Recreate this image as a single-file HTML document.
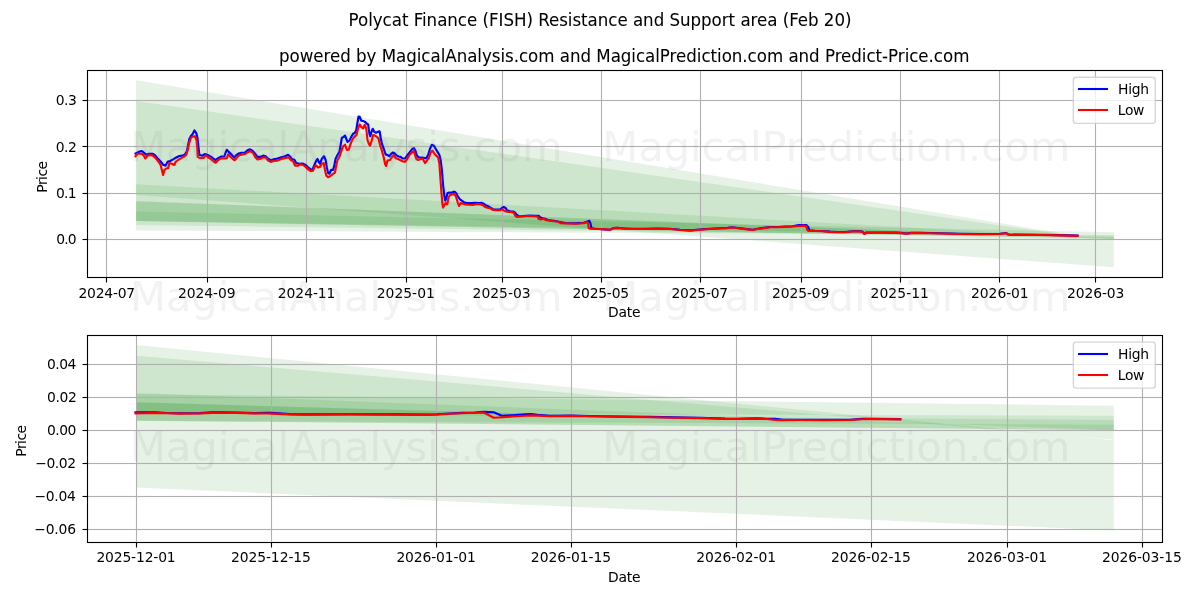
<!DOCTYPE html>
<html lang="en"><head><meta charset="utf-8"><title>Polycat Finance (FISH) Resistance and Support area (Feb 20)</title>
<style>html,body{margin:0;padding:0;background:#fff}body{width:1200px;height:600px;overflow:hidden}svg{display:block}text{font-family:'DejaVu Sans','Liberation Sans',sans-serif;fill:#000}</style>
</head><body>
<svg width="1200" height="600" viewBox="0 0 1200 600">
<rect width="1200" height="600" fill="#fff"/>
<clipPath id="c1"><rect x="86.65" y="70.33" width="1075.51" height="206.56"/></clipPath>
<g clip-path="url(#c1)">
<g fill="#008000" fill-opacity="0.1" stroke="none">
<path d="M136.04 80.2L1113.77 241.9L1113.77 267.2L136.04 195Z"/>
<path d="M136.04 101L1065.67 234.78L136.04 230.5ZM1065.67 234.78L1113.77 241.7L1113.77 235Z"/>
<path d="M136.04 211.5L1113.77 232.2L1113.77 238.9L136.04 221Z"/>
<path d="M136.04 184.2L1081.33 237.09L136.04 225ZM1081.33 237.09L1113.77 238.9L1113.77 237.5Z"/>
<path d="M136.04 201.2L996.44 234.38L136.04 221ZM996.44 234.38L1113.77 238.9L1113.77 236.2Z"/>
<path d="M136.04 201.2L1113.77 238.9L1113.77 238.9L136.04 221Z"/>
</g>
<path d="M86.65 239.5H1162.16M86.65 193.5H1162.16M86.65 146.5H1162.16M86.65 100.5H1162.16" stroke="#b0b0b0" stroke-width="3" stroke-opacity="0.055" fill="none"/>
<path d="M106.5 70.33V276.89M207.5 70.33V276.89M306.5 70.33V276.89M406.5 70.33V276.89M502.5 70.33V276.89M601.5 70.33V276.89M700.5 70.33V276.89M801.5 70.33V276.89M900.5 70.33V276.89M999.5 70.33V276.89M1095.5 70.33V276.89M86.65 239.5H1162.16M86.65 193.5H1162.16M86.65 146.5H1162.16M86.65 100.5H1162.16" stroke="#b0b0b0" stroke-width="1.11" fill="none"/>
<path d="M135.54 153.5L138.75 151.88L141.88 151L144.38 153.12L146.25 154.75L148.75 153.75L152.5 153.75L155 155.25L157.5 158.12L160.62 161.5L163.12 164.75L165.62 165.62L167.5 161.88L170 161L173.12 159.38L176.25 157.5L179.38 156L182.5 155.62L185 154.38L186.88 151.25L188.12 145L189.38 138.75L191.25 135.62L192.5 134.38L194.38 130.38L196.25 133.12L197.5 138.12L198.5 147.5L199.38 155L202.5 155.62L205 154L208.12 155.25L211.25 156.88L213.75 159L215.62 160L218.12 158.12L221.25 156.5L224.38 156.5L225.62 152.5L226.88 149.75L228.75 151.88L231.25 154.38L234.38 157.5L236.25 155.25L238.75 153.5L241.25 152.75L245 152.5L247.5 150.25L250 149.38L252.5 150.62L255 153.75L257.5 156.88L260.62 156.88L263.12 155.62L265.62 156.25L268.12 158.75L270.62 160.25L273.75 159.38L277.5 158.5L281.25 157.25L285 156.25L288.12 154.75L290 156.5L291.88 159L294.38 159.75L296.25 163.12L299.38 163.75L302.5 163.5L305.62 165L308.12 167.25L310.62 169.38L312.5 169.75L314.38 165L316.25 160.62L317.5 159L318.75 161.88L320 163.75L321.88 158.75L324 156.25L325.62 160L326.88 167.5L328.12 173.12L329.38 173.75L331.25 169.75L333.12 170L334.38 165L335.62 158.75L337.5 155L339.38 151.88L340.62 145L341.88 137.75L343.75 136.88L345 135.62L346.25 138.75L347.5 141.88L349.38 140.62L351.25 136.88L353.12 133.75L355 132.75L356.25 130L357.5 122.5L358.5 116.5L359.75 116.88L361.25 120.62L363.12 121L365 121.88L366.88 123.75L368.12 124.38L369.38 133.75L370.25 136.25L371.5 131.88L372.75 128.75L374.38 131.88L376 132.75L377.75 131.88L379.62 131.25L380.62 137.5L381.88 143.75L383.75 148.75L385.62 154.38L387.5 155L389.38 156.25L391.25 153.75L393.12 152.5L395 153.75L396.88 155.62L398.75 156.5L400.62 156.88L402.5 158.5L405 158.5L407.5 155L410 151.88L412.5 148.75L414 148.12L415.62 151.25L416.88 155.62L418.75 157.5L421.88 157.5L424.38 158.12L426.25 158.12L428.12 155L430 148.75L431.88 144.75L433.75 145.62L435.62 148.75L437.5 151.88L439.38 155L440.62 160L441.88 170L443.12 185L444.38 196.25L445.25 200.62L446.5 197.5L447.5 193.12L449.38 192.5L451.25 192.75L453.12 191.88L455 191.88L456.5 193.75L458.12 196.88L460 199.38L462.5 201.25L464.38 202.5L467.5 203.12L471.25 203.12L475 202.88L478.75 203.12L481.88 202.88L483.75 203.75L486.25 205.62L488.75 206.5L490 207.45L493.12 209.2L496.25 209.57L500 209.57L501.88 207.95L503.75 207.07L505.62 207.95L506.88 210.2L510 211.2L513.12 211.45L515 212.7L516.88 214.95L518.75 216.2L522.5 216.07L530 215.57L535 215.82L538.75 215.82L540.25 217.45L542.5 218.32L545 218.7L547.5 219.95L553.75 220.82L560 222.07L565 222.95L575 223.32L583.75 222.7L587.5 221.45L589.38 220.82L590.62 223.95L591.5 228.32L595 228.7L605 229.32L610 229.7L613.75 228.07L617.5 227.82L623.75 228.45L625 228.5L632.5 228.75L645 228.75L657.5 228.5L670 228.75L680 229.75L690 230.38L700 229.5L710 228.75L720 228.25L727.5 227.88L732.5 227.25L740 228.25L747.5 229.12L752.5 229.75L757.5 228.75L763.75 227.88L770 227L777.5 227L785 226.62L792.5 226.25L798.75 225L806.25 225L808.12 226.88L809.38 230.25L815 230.75L822.5 231L830 231.62L837.5 232L845 232L852.5 231.25L857.5 231L862.5 231.62L864.38 233.75L866.25 232.5L872.5 232.5L882.5 232.5L895 232.62L901.25 232.88L906.25 233.5L911.25 232.88L918.75 232.88L920 232.75L940 233.25L960 233.75L980 233.95L1000 233.75L1006 232.95L1008 234.25L1010 234.75L1015 234.55L1040 234.75L1060 235.15L1077.5 235.55" stroke="#0000ff" stroke-width="2.15" fill="none" stroke-linejoin="round" stroke-linecap="square"/>
<path d="M135.54 156.25L137.5 153.75L141.88 153.75L143.75 155.62L145.25 158.5L147.5 155.62L150 155L153.12 155.62L155.62 158.12L158.12 161.25L160.62 165L161.88 170L163.12 175L164.38 170L166.25 168.5L168.12 168.12L169.38 163.12L171.88 163.75L174.38 165L175.62 161.88L178.12 160L181.25 158.12L183.75 156.88L186.25 155L187.75 150L189 143.75L190.62 138.12L192.5 136.5L195 136.25L196.5 140L197.25 147.5L197.75 156.88L200 158.12L203.75 157.88L205.62 155.25L208.12 157.25L211.25 159.38L213.75 161.5L215.62 162.75L218.12 160L221.25 158.12L224.38 158.5L226.88 158.12L228.12 154.38L230 156.25L232.5 158.75L234.75 160.25L236.88 157.5L239.38 155.25L242.5 154.38L245.62 153.75L248.12 151.88L250.62 151.25L253.12 153.12L255 156.88L257.5 159.38L260.62 158.75L263.12 157.25L265.62 157.5L268.12 160.62L270.62 161.88L273.75 161L277.5 160.62L281.25 159L285 158.12L288.75 157.25L290.62 160L293.12 161.25L295 165.62L298.12 165.62L300 164.38L303.12 165L305.62 166.88L308.12 169.38L310.62 171.25L313.12 170.62L315 166.25L316.25 165.62L318.12 167.5L320 166.88L321.88 163.75L323.75 163.12L325 170L326.25 175.62L328.12 177.25L330 176.25L332.5 174.38L335 172.5L336.25 165L337.5 160L339.38 156.88L341.25 151.25L343.12 146.25L345 144.75L346.88 150L348.75 149.75L350.62 143.75L352.5 139.38L354.38 136.88L356.5 135L358.12 128.12L359.75 124.38L361.25 126.88L363.12 128.5L364.75 124.75L366.25 128.75L367.5 140L368.75 143.75L370 145.62L371.5 141.25L373.12 135L375 135.62L376.88 136.88L378.5 138.5L380 145L381.88 150.62L383.75 157.5L385 163.75L386 166L387.5 160.62L390 160L391.88 157.25L393.75 155L395.62 158.12L397.5 158.75L400 160L402.5 161.25L405 161.88L406.88 159.38L409.38 155L411.88 152.5L413.75 151.25L415 155L416.25 158.75L418.12 160L421.25 158.75L423.12 159.38L425 163.12L426.88 160.62L428.75 158.12L430.62 152.5L432.5 150.62L434.38 153.75L436.25 155.62L438.12 157.5L439.38 163.75L440.25 176.25L441.25 190L442.25 202.5L443.12 207.5L444.38 205L445.62 203.12L447.25 204.38L448.5 197.5L450 195L452.5 194.38L454.75 193.75L456.25 197.5L457.75 202.5L459 206L460.62 203.12L462.5 203.5L465 204.38L468.75 204.75L472.5 205L476.25 204.12L480 204.12L482.5 205L485 206.88L487.5 207.75L490 208.12L493.12 210L496.25 210.25L500 210.25L502.5 209.38L505 211.25L508.12 211.88L511.25 211.88L513.75 212.75L515.62 216.25L517.5 216.88L521.25 216.5L525 216.25L530 216L533.75 216.25L537.5 216.62L538.75 219L541.25 219.38L543.75 218.75L546.25 220.25L550 220.62L553.75 221.25L557.5 221.5L560.62 223.12L565 223.5L570 223.5L575 223.75L580 223.5L583.75 223.12L586.88 222.25L588.12 223.75L588.75 228.12L590 228.75L595 228.75L600 229L605 229.38L610 229.75L613.75 228.12L617.5 227.88L623.75 228.5L625 228.75L632.5 229L645 229L657.5 228.75L670 229L680 230L690 230.62L700 229.75L710 229L720 228.5L727.5 228.12L732.5 227.5L740 228.5L747.5 229.38L752.5 230L757.5 229L763.75 228.12L770 227.25L777.5 227.25L785 226.88L792.5 226.5L798.75 226L803.75 225.62L806.25 226.25L807.25 230L808.75 231L815 231L822.5 231.25L830 231.88L837.5 232.25L845 232.25L852.5 231.5L857.5 231.25L862.5 231.88L864.38 234L866.25 232.75L872.5 232.75L882.5 232.75L895 232.88L901.25 233.12L906.25 233.75L911.25 233.12L918.75 233.12L920 233L940 233.5L960 234L980 234.2L1000 234L1006 233.2L1008 234.5L1010 235L1015 234.8L1040 235L1060 235.4L1077.5 235.8" stroke="#ff0000" stroke-width="2.15" fill="none" stroke-linejoin="round" stroke-linecap="square"/>
</g>
<path d="M87 239.5H83M87 193.5H83M87 146.5H83M87 100.5H83" stroke="#000" stroke-width="3" stroke-opacity="0.055" fill="none"/>
<path d="M106.5 277.5V282.5M207.5 277.5V282.5M306.5 277.5V282.5M406.5 277.5V282.5M502.5 277.5V282.5M601.5 277.5V282.5M700.5 277.5V282.5M801.5 277.5V282.5M900.5 277.5V282.5M999.5 277.5V282.5M1095.5 277.5V282.5M87.5 239.5H82.5M87.5 193.5H82.5M87.5 146.5H82.5M87.5 100.5H82.5" stroke="#000" stroke-width="1.11" fill="none"/>
<path d="M88 70.5H1162M88 277.5H1162" stroke="#000" stroke-width="3" stroke-opacity="0.055" fill="none"/>
<path d="M87.5 70.5H1162.5V277.5H87.5Z" stroke="#000" stroke-width="1.11" fill="none" stroke-linejoin="miter" stroke-linecap="square"/>
<g font-size="13.89">
<text transform="translate(78.46 297.75) scale(1 1.050)" font-size="13.89" textLength="56.67" lengthAdjust="spacing">2024-07</text>
<text transform="translate(178.03 297.69) scale(1 1.050)" font-size="13.89" textLength="57.5" lengthAdjust="spacing">2024-09</text>
<text x="277.83" y="297.6" font-size="13.89" textLength="57.62" lengthAdjust="spacing">2024-11</text>
<text transform="translate(376.67 297.81) scale(1 1.050)" font-size="13.89" textLength="58.2" lengthAdjust="spacing">2025-01</text>
<text transform="translate(472.59 297.78) scale(1 1.050)" font-size="13.89" textLength="58.08" lengthAdjust="spacing">2025-03</text>
<text x="572.41" y="297.88" font-size="13.89" textLength="56.67" lengthAdjust="spacing">2025-05</text>
<text transform="translate(671.45 297.88) scale(1 1.050)" font-size="13.89" textLength="56.67" lengthAdjust="spacing">2025-07</text>
<text transform="translate(771.95 297.81) scale(1 1.050)" font-size="13.89" textLength="57.5" lengthAdjust="spacing">2025-09</text>
<text transform="translate(870.6 297.73) scale(1 1.050)" font-size="13.89" textLength="58.33" lengthAdjust="spacing">2025-11</text>
<text transform="translate(971.09 297.83) scale(1 1.050)" font-size="13.89" textLength="57.62" lengthAdjust="spacing">2026-01</text>
<text transform="translate(1066.94 297.82) scale(1 1.050)" font-size="13.89" textLength="57.5" lengthAdjust="spacing">2026-03</text>
<text x="56.2" y="243.83" font-size="13.89" textLength="20.48" lengthAdjust="spacing">0.0</text>
<text x="55.96" y="197.8" font-size="13.89" textLength="20.6" lengthAdjust="spacing">0.1</text>
<text transform="translate(55.68 151.98) scale(1 1.050)" font-size="13.89" textLength="21.18" lengthAdjust="spacing">0.2</text>
<text transform="translate(55.68 104.6) scale(1 1.050)" font-size="13.89" textLength="21.18" lengthAdjust="spacing">0.3</text>
<text transform="translate(608 316.91) scale(1 1.050)" font-size="13.89" textLength="32.67" lengthAdjust="spacing" stroke="#000" stroke-width="0.05">Date</text>
<text transform="translate(46.66 192.69) rotate(-90) scale(1 1.050)" font-size="13.89" textLength="31.77" lengthAdjust="spacing">Price</text>
</g>
<text transform="translate(279.02 61.88) scale(1 1.050)" font-size="16.67" textLength="690.38" lengthAdjust="spacing" stroke="#000" stroke-width="0.05">powered by MagicalAnalysis.com and MagicalPrediction.com and Predict-Price.com</text>
<rect x="1073.34" y="77.28" width="81.88" height="46.06" rx="2.8" ry="2.8" fill="#fff" fill-opacity="0.8" stroke="#ccc" stroke-opacity="0.8" stroke-width="1.39"/>
<path d="M1078 89H1108" stroke="#0000ff" stroke-width="4" stroke-opacity="0.04" fill="none"/>
<path d="M1078 89H1108" stroke="#0000ff" stroke-width="2" fill="none"/>
<path d="M1078 110H1108" stroke="#ff0000" stroke-width="4" stroke-opacity="0.04" fill="none"/>
<path d="M1078 110H1108" stroke="#ff0000" stroke-width="2" fill="none"/>
<text x="1117.97" y="93.6" font-size="13.89" textLength="31.18" lengthAdjust="spacing">High</text>
<text transform="translate(1117.73 114.72) scale(1 1.050)" font-size="13.89" textLength="26.68" lengthAdjust="spacing">Low</text>
<clipPath id="c2"><rect x="86.65" y="335.17" width="1075.51" height="206.56"/></clipPath>
<g clip-path="url(#c2)">
<g fill="#008000" fill-opacity="0.1" stroke="none">
<path d="M136.04 345L1113.77 440.35L1113.77 530.4L136.04 487.6Z"/>
<path d="M136.04 355.8L825.21 414.9L136.04 413ZM825.21 414.9L1113.77 439.65L1113.77 415.7Z"/>
<path d="M136.04 394.2L1113.77 405.7L1113.77 430.3L136.04 420.7Z"/>
<path d="M136.04 393L949.35 424.03L136.04 420.7ZM949.35 424.03L1113.77 430.3L1113.77 424.7Z"/>
<path d="M136.04 402.3L634.22 416.57L136.04 413ZM634.22 416.57L1113.77 430.3L1113.77 420Z"/>
<path d="M136.04 402.3L1113.77 430.3L1113.77 430.3L136.04 420.7Z"/>
</g>
<path d="M86.65 529.5H1162.16M86.65 496.5H1162.16M86.65 463.5H1162.16M86.65 430.5H1162.16M86.65 397.5H1162.16M86.65 364.5H1162.16" stroke="#b0b0b0" stroke-width="3" stroke-opacity="0.055" fill="none"/>
<path d="M136.5 335.17V541.72M271.5 335.17V541.72M436.5 335.17V541.72M571.5 335.17V541.72M736.5 335.17V541.72M871.5 335.17V541.72M1007.5 335.17V541.72M1142.5 335.17V541.72M86.65 529.5H1162.16M86.65 496.5H1162.16M86.65 463.5H1162.16M86.65 430.5H1162.16M86.65 397.5H1162.16M86.65 364.5H1162.16" stroke="#b0b0b0" stroke-width="1.11" fill="none"/>
<path d="M135.54 412.3L145 412.4L155 412.4L167 413L180 413.3L200 413.1L212 412.2L220 412.2L236 412.6L255 413.1L268 412.7L271 412.9L290 414.1L306 414.4L325 414.3L350 414.2L375 414.3L400 414.4L425 414.6L436.5 414.3L450 413.5L462 412.9L475 412.5L483.8 411.9L493.7 412.3L501.8 415.7L512.5 415.2L525 414.3L531 414.1L537.5 414.9L550 415.9L571 415.6L600 416.2L625 416.6L650 416.9L675 417.4L700 417.8L725 418.6L737 418.7L756 418.3L767 418.7L775 418.9L783 419.7L800 419.7L825 419.9L850 419.7L862 418.9L871 418.8L900.3 419.1" stroke="#0000ff" stroke-width="2.15" fill="none" stroke-linejoin="round" stroke-linecap="square"/>
<path d="M135.54 413.3L145 413.2L155 412.9L167 413.3L180 413.6L200 413.4L212 413L220 412.8L236 412.9L255 413.4L268 413.5L271 413.6L290 414.4L306 414.7L325 414.6L350 414.5L375 414.6L400 414.7L425 414.9L436.5 414.6L450 413.8L462 413.2L475 412.8L483.8 412.5L493.7 417.7L503 417.2L512.5 416.5L525 415.7L531 415.4L537.5 415.6L550 416.2L571 415.9L600 416.5L625 416.9L650 417.2L675 417.7L700 418.1L725 418.9L737 419L756 418.6L767 419L775 420L783 420.1L800 420L825 420.2L850 420L862 419.2L871 419.1L900.3 419.4" stroke="#ff0000" stroke-width="2.15" fill="none" stroke-linejoin="round" stroke-linecap="square"/>
</g>
<path d="M87 529.5H83M87 496.5H83M87 463.5H83M87 430.5H83M87 397.5H83M87 364.5H83" stroke="#000" stroke-width="3" stroke-opacity="0.055" fill="none"/>
<path d="M136.5 542.5V547.5M271.5 542.5V547.5M436.5 542.5V547.5M571.5 542.5V547.5M736.5 542.5V547.5M871.5 542.5V547.5M1007.5 542.5V547.5M1142.5 542.5V547.5M87.5 529.5H82.5M87.5 496.5H82.5M87.5 463.5H82.5M87.5 430.5H82.5M87.5 397.5H82.5M87.5 364.5H82.5" stroke="#000" stroke-width="1.11" fill="none"/>
<path d="M88 335.5H1162M88 542.5H1162" stroke="#000" stroke-width="3" stroke-opacity="0.055" fill="none"/>
<path d="M87.5 335.5H1162.5V542.5H87.5Z" stroke="#000" stroke-width="1.11" fill="none" stroke-linejoin="miter" stroke-linecap="square"/>
<g font-size="13.89">
<text transform="translate(96.38 561.57) scale(1 1.050)" font-size="13.89" textLength="79.3" lengthAdjust="spacing">2025-12-01</text>
<text x="230.91" y="561.58" font-size="13.89" textLength="80" lengthAdjust="spacing">2025-12-15</text>
<text transform="translate(396.4 561.65) scale(1 1.050)" font-size="13.89" textLength="79.42" lengthAdjust="spacing">2026-01-01</text>
<text x="530.87" y="561.66" font-size="13.89" textLength="80.12" lengthAdjust="spacing">2026-01-15</text>
<text x="696.14" y="561.65" font-size="13.89" textLength="80" lengthAdjust="spacing">2026-02-01</text>
<text x="830.95" y="561.65" font-size="13.89" textLength="80" lengthAdjust="spacing">2026-02-15</text>
<text x="967.09" y="561.64" font-size="13.89" textLength="80" lengthAdjust="spacing">2026-03-01</text>
<text transform="translate(1101.9 561.64) scale(1 1.050)" font-size="13.89" textLength="80" lengthAdjust="spacing">2026-03-15</text>
<text x="34.34" y="533.56" font-size="13.89" textLength="41.67" lengthAdjust="spacing">−0.06</text>
<text x="34.4" y="500.81" font-size="13.89" textLength="41.55" lengthAdjust="spacing">−0.04</text>
<text x="35.21" y="467.88" font-size="13.89" textLength="40.85" lengthAdjust="spacing">−0.02</text>
<text x="47.1" y="434.56" font-size="13.89" textLength="29.23" lengthAdjust="spacing">0.00</text>
<text x="46.99" y="401.91" font-size="13.89" textLength="29.93" lengthAdjust="spacing">0.02</text>
<text x="47.02" y="368.82" font-size="13.89" textLength="29.23" lengthAdjust="spacing">0.04</text>
<text transform="translate(608 581.74) scale(1 1.050)" font-size="13.89" textLength="32.67" lengthAdjust="spacing" stroke="#000" stroke-width="0.05">Date</text>
<text transform="translate(25.79 456.69) rotate(-90) scale(1 1.050)" font-size="13.89" textLength="31.77" lengthAdjust="spacing">Price</text>
</g>
<rect x="1073.34" y="342.11" width="81.88" height="46.06" rx="2.8" ry="2.8" fill="#fff" fill-opacity="0.8" stroke="#ccc" stroke-opacity="0.8" stroke-width="1.39"/>
<path d="M1078 354H1108" stroke="#0000ff" stroke-width="4" stroke-opacity="0.04" fill="none"/>
<path d="M1078 354H1108" stroke="#0000ff" stroke-width="2" fill="none"/>
<path d="M1078 375H1108" stroke="#ff0000" stroke-width="4" stroke-opacity="0.04" fill="none"/>
<path d="M1078 375H1108" stroke="#ff0000" stroke-width="2" fill="none"/>
<text x="1117.97" y="358.94" font-size="13.89" textLength="31.18" lengthAdjust="spacing">High</text>
<text transform="translate(1117.73 379.56) scale(1 1.050)" font-size="13.89" textLength="26.68" lengthAdjust="spacing">Low</text>
<text transform="translate(348.56 25.75) scale(1 1.050)" font-size="16.67" textLength="502.95" lengthAdjust="spacing" stroke="#000" stroke-width="0.05">Polycat Finance (FISH) Resistance and Support area (Feb 20)</text>
<g fill-opacity="0.105">
<text x="129.88" y="160.75" font-size="41.67" textLength="940.38" lengthAdjust="spacing" style="fill:#808080;white-space:pre" xml:space="preserve">MagicalAnalysis.com   MagicalPrediction.com</text>
<text x="129.88" y="310.75" font-size="41.67" textLength="940.38" lengthAdjust="spacing" style="fill:#808080;white-space:pre" xml:space="preserve">MagicalAnalysis.com   MagicalPrediction.com</text>
<text x="129.88" y="460.75" font-size="41.67" textLength="940.38" lengthAdjust="spacing" style="fill:#808080;white-space:pre" xml:space="preserve">MagicalAnalysis.com   MagicalPrediction.com</text>
</g>
</svg></body></html>
